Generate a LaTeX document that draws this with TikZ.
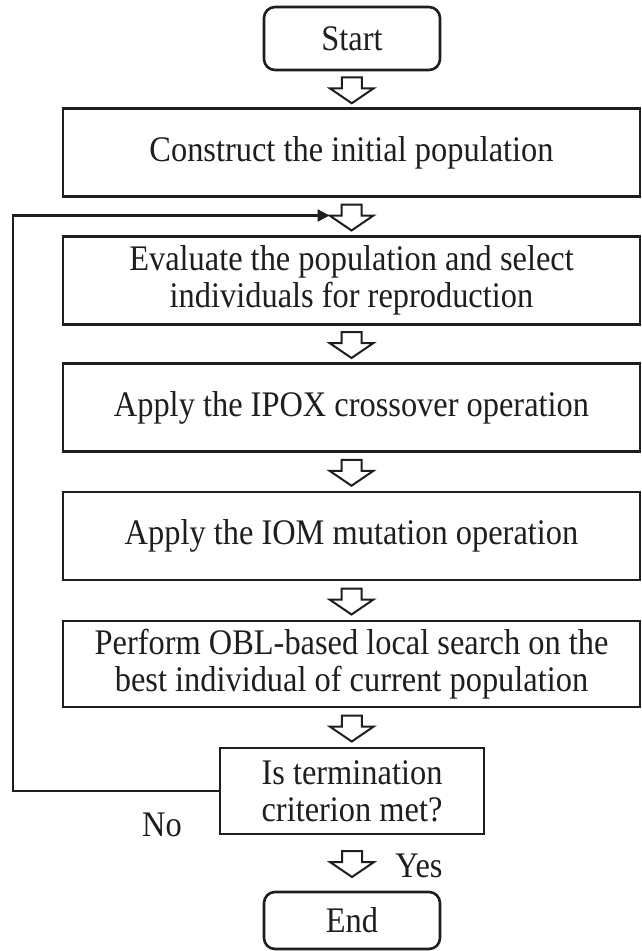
\documentclass[tikz,border=0pt]{standalone}
\usepackage{fontspec}
\setmainfont{Liberation Serif}[FakeStretch=0.9]
\usetikzlibrary{arrows.meta,calc}

\definecolor{ink}{HTML}{1E1E1E}

\tikzset{
  stepbox/.style={draw=ink, line width=2.6pt, fill=white, text=ink,
    align=center, inner sep=0pt, font=\fontsize{36}{37}\selectfont},
  mainbox/.style={stepbox, minimum width=577pt, minimum height=88pt},
  termbox/.style={stepbox, rounded corners=11pt, minimum width=176pt},
  flowlabel/.style={text=ink, font=\fontsize{36}{37}\selectfont},
  loopline/.style={draw=ink, line width=2.4pt,
    -{Triangle[length=12pt,width=12pt]}},
  hollow/.pic={
    \draw[ink, line width=2pt, fill=white, line join=miter]
      (-10,-13) -- (10,-13) -- (10,-2) -- (22,-2) -- (0,13)
      -- (-22,-2) -- (-10,-2) -- cycle;
    \coordinate (-lc) at (-22,-2);
  }
}

\begin{document}
\begin{tikzpicture}[x=1pt, y=-1pt]
  \useasboundingbox (0,0) rectangle (641,951);

  % process boxes
  \node[termbox, minimum height=63pt] (start) at (352,38.5) {Start};
  \node[mainbox] (init) at (351.5,152.5) {Construct the initial population};
  \node[mainbox] (eval) at (351.5,280.5)
    {Evaluate the population and select\\individuals for reproduction};
  \node[mainbox] (cross) at (351.5,407.5) {Apply the IPOX crossover operation};
  \node[mainbox] (mut) at (351.5,536) {Apply the IOM mutation operation};
  \node[mainbox, minimum height=86pt] (obl) at (351.5,664)
    {Perform OBL-based local search on the\\best individual of current population};
  \node[stepbox, minimum width=264pt, minimum height=86pt] (dec) at (352,791)
    {Is termination\\criterion met?};
  \node[termbox, minimum height=57pt] (stop) at (352,920.5) {End};

  % hollow flow arrows between consecutive boxes
  \pic (a1) at ($(start.south)!0.5!(init.north)+(0,1)$) {hollow};
  \pic (a2) at ($(init.south)!0.5!(eval.north)+(0,1)$) {hollow};
  \pic (a3) at ($(eval.south)!0.5!(cross.north)+(0,1)$) {hollow};
  \pic (a4) at ($(cross.south)!0.5!(mut.north)+(0,1)$) {hollow};
  \pic (a5) at ($(mut.south)!0.5!(obl.north)+(0,1)$) {hollow};
  \pic (a6) at ($(obl.south)!0.5!(dec.north)+(0,1)$) {hollow};
  \pic (a7) at ($(dec.south)!0.5!(stop.north)+(0,1)$) {hollow};

  % feedback loop when the criterion is not met
  \coordinate (loopx) at (13,0);
  \draw[loopline] (dec.west) -- (dec.west -| loopx) |- (a2-lc);

  % branch labels
  \node[flowlabel] (no) at (162,825) {No};
  \node[flowlabel] (yes) at (419,866) {Yes};
\end{tikzpicture}
\end{document}
